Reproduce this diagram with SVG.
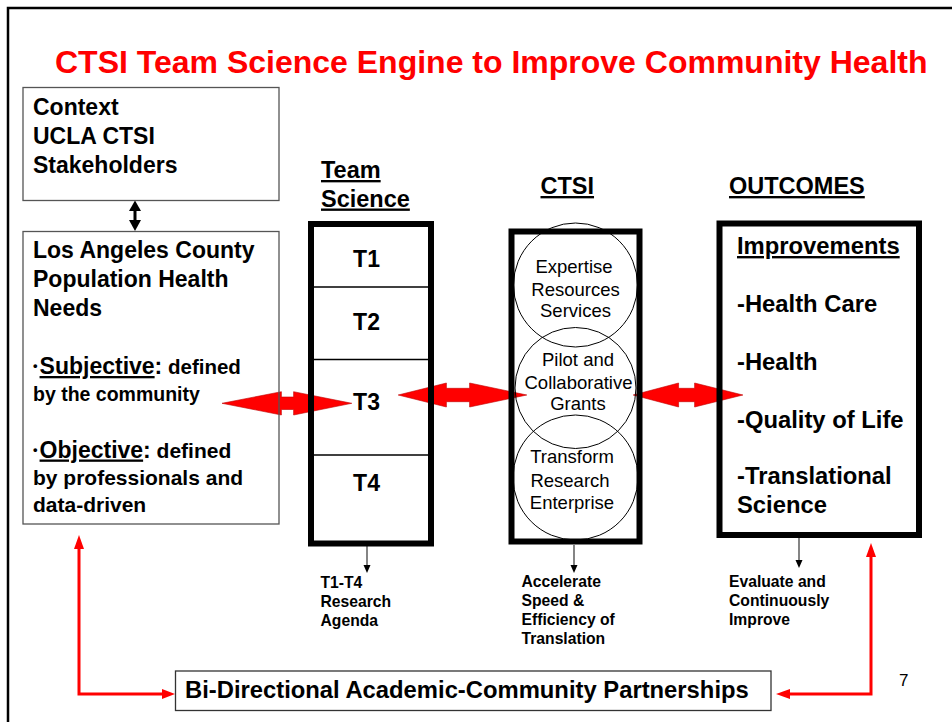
<svg xmlns="http://www.w3.org/2000/svg" width="952" height="722" viewBox="0 0 952 722">
<style>
text{font-family:"Liberation Sans",Arial,sans-serif;fill:#000}
.b{font-weight:bold}
.thin{fill:none;stroke:#555;stroke-width:1.3}
.thick{fill:none;stroke:#000;stroke-width:6}
.circ{fill:none;stroke:#000;stroke-width:1}
.red{fill:#ff0000;stroke:#c00000;stroke-width:0.6}
.redl{fill:none;stroke:#ff0000;stroke-width:3}
.stem{stroke:#333;stroke-width:1.2;fill:none}
.u{text-decoration:underline}
.c{text-anchor:middle}
.sm{font-size:15.7px;font-weight:bold}
</style>
<rect width="952" height="722" fill="#fff"/>
<path d="M8,722 V8 H952" fill="none" stroke="#000" stroke-width="2.5"/>
<text x="55" y="73" class="b" font-size="32" style="fill:#ff0000">CTSI Team Science Engine to Improve Community Health</text>

<g id="connectors">
  <polygon class="red" points="222,403.3 281.4,391.7 281.4,397 293.6,397 293.6,391.7 351.8,403.3 293.6,415 293.6,409.5 281.4,409.5 281.4,415"/>
  <polygon class="red" points="398.2,395 446.4,383 446.4,388.3 469.6,388.3 469.6,383 526.8,395 469.6,407 469.6,401.7 446.4,401.7 446.4,407"/>
  <polygon class="red" points="633.2,395 678.6,383 678.6,388.3 694.6,388.3 694.6,383 742.9,395 694.6,407 694.6,401.7 678.6,401.7 678.6,407"/>
  <rect x="133.5" y="208" width="3" height="14" fill="#000"/>
  <polygon points="135,200.5 129,211 141,211" fill="#000"/>
  <polygon points="135,231 129,220 141,220" fill="#000"/>
  <line class="stem" x1="367" y1="546" x2="367" y2="566"/>
  <polygon points="367,573 363.5,565 370.5,565" fill="#000"/>
  <line class="stem" x1="574" y1="545" x2="574" y2="566"/>
  <polygon points="574,573 570.5,565 577.5,565" fill="#000"/>
  <line class="stem" x1="799" y1="538" x2="799" y2="561"/>
  <polygon points="799,568 795.5,560 802.5,560" fill="#000"/>
  <path class="redl" d="M79,547 V694 H164"/>
  <polygon points="79,535 74,549 84,549" fill="#ff0000"/>
  <polygon points="175,694 162,689 162,699" fill="#ff0000"/>
  <path class="redl" d="M871,555 V694 H789"/>
  <polygon points="871,543 866,557 876,557" fill="#ff0000"/>
  <polygon points="776,694 790,689 790,699" fill="#ff0000"/>
</g>

<g id="context">
  <rect class="thin" x="23" y="87.5" width="256" height="113"/>
  <text class="b" font-size="23" x="33" y="115">Context</text>
  <text class="b" font-size="23" x="33" y="144">UCLA CTSI</text>
  <text class="b" font-size="23" x="33" y="173">Stakeholders</text>
</g>

<g id="la-needs">
  <rect class="thin" x="23" y="231.5" width="256" height="292.5"/>
  <text class="b" font-size="23" x="33" y="258">Los Angeles County</text>
  <text class="b" font-size="23" x="33" y="287">Population Health</text>
  <text class="b" font-size="23" x="33" y="316">Needs</text>
  <text class="b" font-size="23" x="33" y="374"><tspan font-size="13" dy="-4">•</tspan><tspan class="u" dx="2" dy="4">Subjective</tspan>:<tspan font-size="20.5"> defined</tspan></text>
  <text class="b" font-size="19.5" x="33" y="401">by the community</text>
  <text class="b" font-size="23" x="33" y="457.5"><tspan font-size="13" dy="-4">•</tspan><tspan class="u" dx="2" dy="4">Objective</tspan>:<tspan font-size="21"> defined</tspan></text>
  <text class="b" font-size="21" x="33" y="484.5">by professionals and</text>
  <text class="b" font-size="21" x="33" y="511.5">data-driven</text>
</g>

<g id="team-science">
  <text class="b u" font-size="23.5" x="321" y="178">Team</text>
  <text class="b u" font-size="23.5" x="321" y="206.5">Science</text>
  <line x1="311" y1="287" x2="431" y2="287" stroke="#000" stroke-width="1.6"/>
  <line x1="311" y1="359.5" x2="431" y2="359.5" stroke="#000" stroke-width="1.6"/>
  <line x1="311" y1="455" x2="431" y2="455" stroke="#000" stroke-width="1.6"/>
  <rect class="thick" x="311" y="224" width="120" height="319.5"/>
  <text class="b c" font-size="23" x="366.5" y="267">T1</text>
  <text class="b c" font-size="23" x="366.5" y="330">T2</text>
  <text class="b c" font-size="23" x="366.5" y="410">T3</text>
  <text class="b c" font-size="23" x="366.5" y="491">T4</text>
  <text class="sm" x="320.5" y="588">T1-T4</text>
  <text class="sm" x="320.5" y="607">Research</text>
  <text class="sm" x="320.5" y="626">Agenda</text>
</g>

<g id="ctsi">
  <text class="b u" font-size="23.5" x="540.5" y="194">CTSI</text>
  <rect class="thick" x="511.5" y="231.5" width="128" height="310"/>
  <circle class="circ" cx="575.5" cy="285" r="62"/>
  <circle class="circ" cx="575.5" cy="388" r="60.5"/>
  <circle class="circ" cx="575.5" cy="477.5" r="62.5"/>
  <text class="c" font-size="18.5" x="574" y="273">Expertise</text>
  <text class="c" font-size="18.5" x="575.5" y="296">Resources</text>
  <text class="c" font-size="18.5" x="575.5" y="317">Services</text>
  <text class="c" font-size="18.5" x="578" y="366">Pilot and</text>
  <text class="c" font-size="18.5" x="578.5" y="388.5">Collaborative</text>
  <text class="c" font-size="18.5" x="578" y="410">Grants</text>
  <text class="c" font-size="18.5" x="572" y="463">Transform</text>
  <text class="c" font-size="18.5" x="570" y="486.5">Research</text>
  <text class="c" font-size="18.5" x="572" y="508.5">Enterprise</text>
  <text class="sm" x="521.5" y="587">Accelerate</text>
  <text class="sm" x="521.5" y="606">Speed &amp;</text>
  <text class="sm" x="521.5" y="625">Efficiency of</text>
  <text class="sm" x="521.5" y="644">Translation</text>
</g>

<g id="outcomes">
  <text class="b u" font-size="23.5" x="729" y="194">OUTCOMES</text>
  <rect class="thick" x="719.5" y="223.5" width="199.5" height="311.5"/>
  <text class="b u" font-size="23.8" x="737" y="254">Improvements</text>
  <text class="b" font-size="23.8" x="737" y="312">-Health Care</text>
  <text class="b" font-size="23.8" x="737" y="369.5">-Health</text>
  <text class="b" font-size="23.8" x="737" y="427.5">-Quality of Life</text>
  <text class="b" font-size="23.8" x="737" y="484">-Translational</text>
  <text class="b" font-size="23.8" x="737" y="513">Science</text>
  <text class="sm" x="729" y="587">Evaluate and</text>
  <text class="sm" x="729" y="606">Continuously</text>
  <text class="sm" x="729" y="625">Improve</text>
</g>

<g id="partnerships">
  <rect class="thin" x="175.5" y="671" width="595.5" height="39.5" style="stroke:#333"/>
  <text class="b" font-size="23.8" x="185" y="698">Bi-Directional Academic-Community Partnerships</text>
</g>

<text x="899" y="686" font-size="17">7</text>
</svg>
